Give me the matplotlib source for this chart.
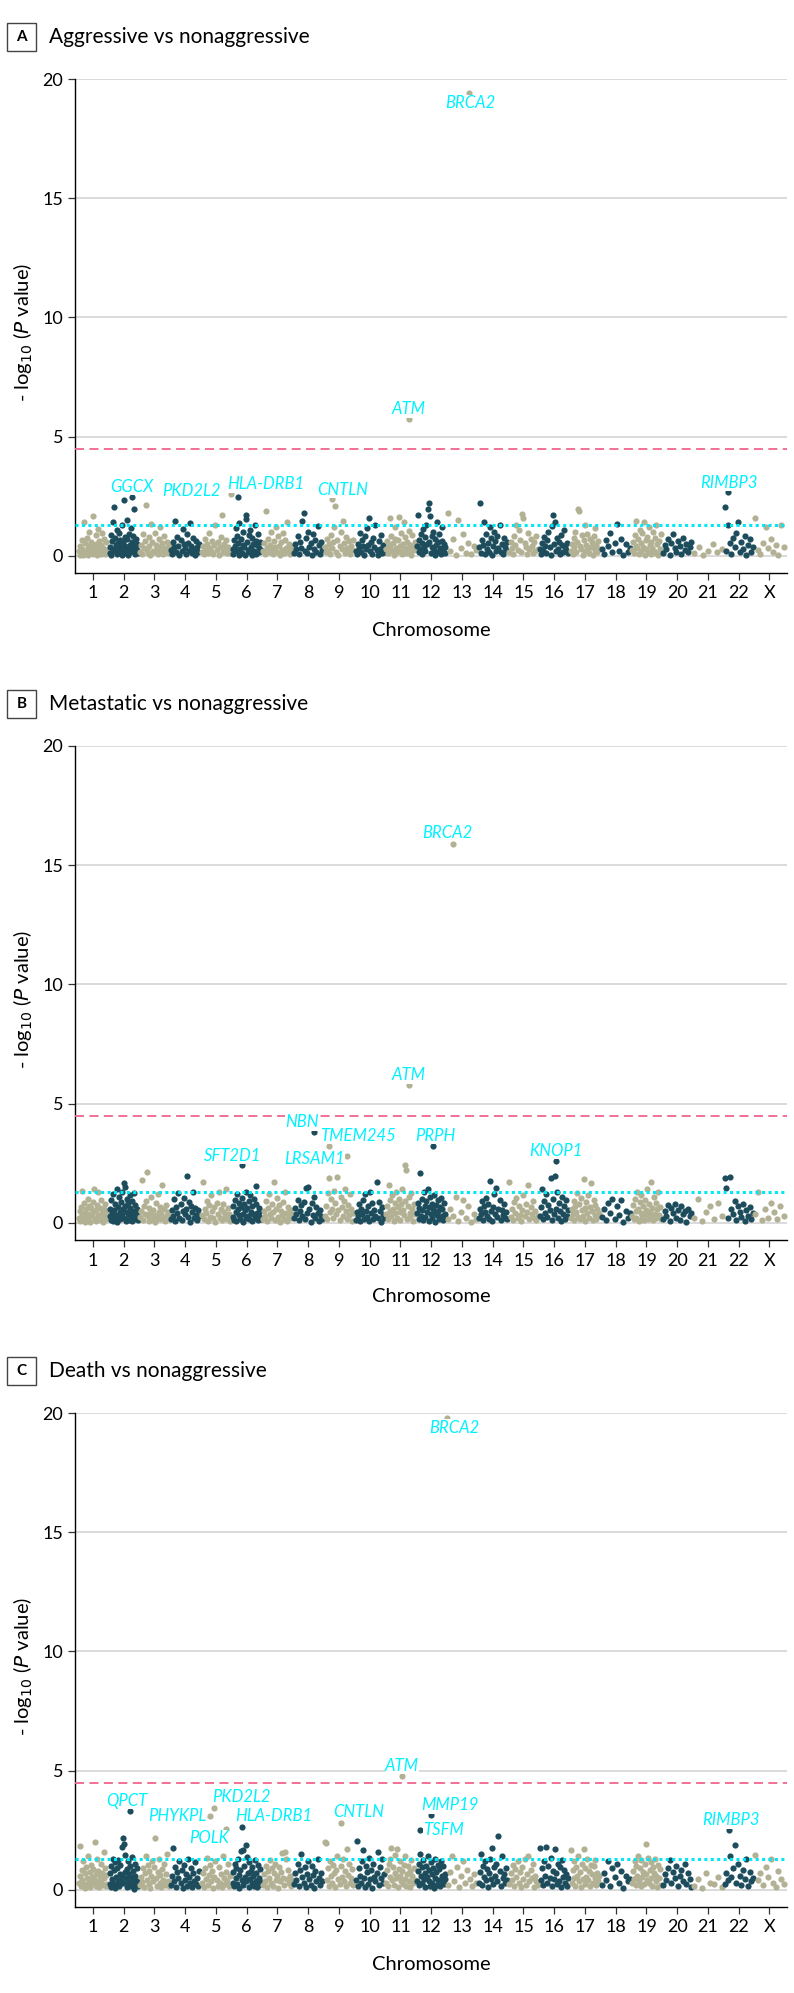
import numpy as np
import matplotlib.pyplot as plt
from matplotlib.patches import Rectangle

plt.rcParams['font.family'] = ['Lato', 'DejaVu Sans']

chromosomes = [str(i) for i in range(1, 23)] + ['X']

# -log10(P) per chromosome (x100), listed in genomic order
bulk_a = [
    "22 5 41 12 68 30 3 142 55 18 9 74 33 2 101 47 15 60 26 7 167 38 11 88 51 4 29 112 63 20 8 45 95 34 13 70 6 57 24 10",
    "35 12 88 4 61 27 140 204 19 73 45 8 110 52 31 96 14 66 38 2 129 57 23 234 81 42 10 150 69 28 5 93 47 16 118 60 33 84 21 195 39 7 72 25 49 13",
    "18 44 7 90 31 62 213 25 11 79 40 3 135 58 22 14 96 47 29 6 71 38 120 16 52 9 84 33 24 60 12 42",
    "26 9 58 37 145 14 80 43 5 67 22 112 48 31 8 92 55 19 138 40 12 73 28 3 61 35 17 50",
    "15 40 6 72 28 51 11 95 34 20 63 8 44 128 25 57 3 38 81 170 17 49 30 66 10 36 22 13",
    "30 8 66 42 118 19 85 53 4 137 27 71 12 98 46 35 5 170 155 60 24 88 14 107 39 2 76 50 21 130 63 9 44 93 31 16 58 25",
    "20 55 9 187 33 70 14 46 101 28 6 62 37 122 18 84 41 3 57 25 95 11 68 32 140 16 48 7 39 23",
    "12 48 27 85 6 60 34 145 180 21 73 10 102 39 55 3 90 30 66 16 125 44 8 58 24",
    "36 14 70 25 48 9 88 31 57 120 210 18 65 4 42 99 27 145 52 11 77 34 20 61 7 40 23 66",
    "22 7 51 33 96 14 68 40 3 82 27 115 45 160 19 58 9 74 36 130 24 5 63 30 88 12 47 18",
    "28 62 10 45 160 37 83 19 55 5 120 72 31 14 66 163 41 22 95 8 50 140 27 77 12 60 34 105 18 46 3 89 38 25 57",
    "40 173 15 68 29 90 6 52 112 35 77 21 130 48 198 220 60 167 11 85 38 102 25 4 71 44 140 18 57 93 31 9 64 120 27 50 13 36",
    "178 20 72 5 150 34 90 12 55 8 41 26",
    "35 220 12 68 44 140 8 90 27 55 18 120 73 3 40 100 61 22 85 31 130 14 50 9 76 38 25 58",
    "18 60 33 9 82 45 130 25 110 68 14 175 160 52 36 6 94 28 71 40 12 57 22 85 30",
    "30 6 55 22 80 41 12 67 98 35 3 125 170 48 140 19 73 27 60 9 88 44 15 110 37 24 52 10",
    "22 50 8 75 35 102 14 60 195 190 41 27 88 5 66 130 19 47 93 31 11 72 38 56 3 84 25 115 44 16 62 29",
    "30 8 65 40 95 15 55 135 22 70 4 48 18 33",
    "25 60 12 88 40 145 31 70 6 110 52 19 95 37 140 4 66 28 80 15 120 45 9 58 33 100 22 74 11 130 48 3 63 27 90",
    "12 45 28 70 5 55 90 33 18 62 40 8 75 25 50 14 36 60",
    "10 35 5 22 48 14 30",
    "206 20 130 55 8 75 35 95 140 15 60 28 85 4 45 70 18 38",
    "160 25 8 55 120 32 70 14 45 5 130 38",
]
bulk_b = [
    "20 48 9 66 135 31 14 82 40 5 57 24 98 11 70 36 3 61 27 88 45 143 18 52 7 76 33 130 21 64 12 94 42 4 58 29 80 16 50 25",
    "28 60 11 95 42 7 123 55 19 80 34 140 4 68 26 110 47 15 89 38 131 58 22 168 150 71 9 102 44 30 85 13 64 115 36 6 92 51 20 126 40 74 17 57 33 10",
    "24 50 180 12 72 38 90 215 29 8 63 41 110 17 55 33 4 82 26 120 47 14 68 35 160 21 58 9 76 31 44 15",
    "18 55 30 98 7 67 40 125 22 80 12 48 105 35 60 195 26 88 5 71 44 130 19 62 33 10 52 28",
    "32 170 14 60 41 93 8 74 25 118 50 19 66 3 85 37 131 22 57 11 79 46 28 140 15 63 36 9",
    "26 70 12 95 44 8 120 58 33 85 17 66 105 39 4 78 52 22 128 61 30 90 14 115 47 6 72 36 100 20 81 155 42 11 63 28 50 16",
    "15 48 30 92 8 64 120 37 22 80 45 170 12 58 105 26 73 4 50 34 88 18 130 41 9 67 29 55 20 38",
    "20 62 35 95 10 48 75 28 88 15 145 40 150 58 5 82 31 110 22 66 42 8 54 30 18",
    "30 72 15 125 190 44 98 60 22 135 85 38 192 52 10 110 66 27 90 140 48 18 75 33 120 56 8 41",
    "12 45 28 80 6 60 35 95 18 120 50 25 70 9 130 40 82 15 55 30 172 22 88 48 5 65 33 20",
    "35 72 14 160 50 95 28 118 60 8 85 40 130 22 66 100 45 12 78 140 55 33 243 90 220 18 70 110 42 26 125 58 9 80 38",
    "40 85 18 62 207 30 100 55 12 128 70 25 92 45 140 8 66 110 36 80 20 58 118 42 5 76 33 96 50 15 68 105 28 60 10 82 38 22",
    "15 60 30 110 8 45 95 22 70 5 38 18",
    "22 58 35 90 12 70 45 105 28 80 16 175 50 8 66 120 38 145 25 60 95 10 55 32 78 20 44 14",
    "170 25 60 12 88 40 105 20 70 33 8 55 118 28 80 45 157 15 65 38 92 22 50 10 30",
    "30 65 140 15 90 42 120 25 75 55 188 10 100 35 197 60 130 20 82 48 8 110 38 70 18 95 28 52",
    "20 58 35 92 10 70 44 125 26 80 15 105 52 30 183 62 8 88 40 118 22 68 166 48 12 95 34 74 18 56 28 40",
    "25 60 10 85 40 100 18 70 32 95 5 50 22 42",
    "30 75 14 100 48 22 130 60 8 88 40 118 26 70 12 95 52 35 140 18 80 45 28 170 62 10 110 38 85 20 58 128 33 66 15",
    "15 50 30 75 8 62 40 80 22 55 12 70 35 48 5 60 28 42",
    "20 100 8 45 70 15 85 30",
    "188 145 20 191 60 35 90 12 70 45 25 80 8 55 30 65 15 40",
    "35 130 10 60 22 85 45 15 70 28",
]
bulk_c = [
    "30 60 184 15 85 42 120 25 70 8 95 50 20 140 35 75 12 105 55 28 88 45 200 18 66 130 38 80 10 58 110 33 72 22 160 48 90 14 62 26",
    "25 70 12 98 45 130 30 82 8 115 55 20 92 40 125 15 68 105 35 178 60 216 28 193 75 147 48 10 88 120 33 65 18 100 52 138 22 80 42 5 110 58 26 90 36 14",
    "20 55 32 90 12 70 140 40 105 25 80 8 60 120 35 95 216 48 18 75 130 28 62 10 88 42 110 22 68 150 38 15",
    "22 60 174 35 95 12 75 48 120 28 85 8 105 42 65 18 130 55 30 90 10 70 38 115 25 50 15 80",
    "28 70 12 90 45 135 20 62 105 35 80 8 55 120 40 18 95 30 68 10 140 50 25 75 38 110 15 58",
    "30 75 15 110 50 90 25 130 62 8 85 163 40 166 20 100 55 190 35 136 70 12 118 45 80 28 95 60 18 125 38 72 10 105 48 22 88 33",
    "22 65 38 100 12 80 48 125 28 90 15 70 110 42 60 8 95 35 75 155 50 20 160 130 45 85 30 58 18 40",
    "25 72 40 110 15 85 150 55 30 95 12 68 120 45 20 100 62 8 80 35 130 50 22 70 38",
    "200 195 40 90 18 120 60 30 105 70 12 85 140 45 25 98 55 130 35 78 15 170 62 110 28 50 88 20",
    "40 203 18 90 60 30 120 166 50 12 100 75 25 135 45 85 8 110 55 35 70 160 20 95 48 130 28 65",
    "30 85 15 110 55 130 175 40 95 20 70 145 50 172 10 88 60 120 35 78 25 105 45 140 18 65 98 38 80 12 125 58 28 90 42",
    "35 80 20 110 150 60 95 28 125 45 70 12 100 55 140 38 85 18 118 65 30 92 8 130 50 75 22 105 42 88 15 120 58 35 98 25 68 45",
    "20 75 142 35 95 10 60 120 28 85 45 15 65 30",
    "30 75 150 20 100 55 120 40 88 12 70 130 45 174 25 95 60 110 35 225 80 18 140 50 68 28 90 42",
    "25 70 40 105 15 88 55 120 30 75 10 95 45 130 20 65 140 35 85 50 110 12 60 38 22",
    "176 40 90 20 120 60 180 30 100 50 135 15 80 45 170 70 25 110 38 95 10 125 55 85 30 65 18 48",
    "168 30 85 50 120 18 95 60 140 35 75 12 110 45 170 25 90 55 130 40 80 15 105 65 28 98 48 125 20 70 38 58",
    "20 70 40 120 15 90 55 110 30 80 8 60 35 45",
    "30 80 45 120 20 100 60 140 35 90 15 125 55 75 25 110 65 193 40 135 28 85 50 118 18 95 70 130 38 60 12 105 48 88 22",
    "20 65 40 90 125 30 75 50 100 15 60 85 35 110 25 70 45 10",
    "15 45 8 70 30 25 55 12",
    "25 70 40 140 55 90 186 30 110 60 20 85 45 130 15 75 35 50",
    "148 40 70 20 95 55 130 30 10 80 45 25",
]

# labelled genes: chromosome, relative position within chromosome, -log10(P)
genes_a = ['GGCX', 'PKD2L2', 'HLA-DRB1', 'CNTLN', 'ATM', 'BRCA2', 'RIMBP3']
chrom_a = [2, 5, 6, 9, 11, 13, 22]
pos_a = [0.26, 0.48, -0.3, -0.24, 0.27, 0.23, -0.36]
logp_a = [2.48, 2.6, 2.45, 2.38, 5.73, 19.4, 2.69]

genes_b = ['SFT2D1', 'NBN', 'TMEM245', 'LRSAM1', 'ATM', 'PRPH', 'BRCA2', 'KNOP1']
chrom_b = [6, 8, 9, 9, 11, 12, 13, 16]
pos_b = [-0.16, 0.2, -0.33, 0.25, 0.27, 0.06, -0.29, 0.06]
logp_b = [2.43, 3.8, 3.24, 2.79, 5.77, 3.24, 15.9, 2.6]

genes_c = ['QPCT', 'PHYKPL', 'PKD2L2', 'POLK', 'HLA-DRB1', 'CNTLN', 'ATM', 'MMP19', 'TSFM', 'BRCA2', 'RIMBP3']
chrom_c = [2, 5, 5, 5, 6, 9, 11, 12, 12, 13, 22]
pos_c = [0.19, -0.2, -0.08, 0.33, -0.14, 0.06, 0.05, 0.0, -0.37, -0.5, -0.3]
logp_c = [3.3, 3.08, 3.44, 2.55, 2.64, 2.8, 4.77, 3.13, 2.5, 19.8, 2.5]

titles = ['Aggressive vs nonaggressive', 'Metastatic vs nonaggressive', 'Death vs nonaggressive']
letters = ['A', 'B', 'C']

# label placement (pixels from the point: right, up)
offs_a = [(0, 10), (-39, 3), (28, 13), (11, 9), (0, 10), (1, -10), (1, 9)]
offs_b = [(-9, 9), (-12, 10), (29, 10), (-32, -3), (0, 10), (2, 10), (-6, 11), (0, 10)]
offs_c = [(-3, 10), (-33, 0), (28, 11), (-17, -9), (31, 11), (18, 11), (0, 10), (19, 10), (24, 0), (8, -10), (1, 10)]

sig_line = 4.5
nominal_line = 1.3

colors = ['#b3b194', '#1d4d5d']
label_color = '#00f2ff'

W, H = 794, 1993
fig = plt.figure(figsize=(W / 100, H / 100), dpi=100)

ax_left, ax_right = 75, 787
tops = [79, 746, 1413]
ax_h = 494


def draw_panel(ax, bulk, genes, chrom, pos, logp, offs):
    for i, s in enumerate(bulk):
        v = np.array(s.split(), dtype=float) / 100
        x = i + 1 + np.linspace(-0.46, 0.46, len(v))
        ax.scatter(x, v, s=20, color=colors[i % 2], lw=0, zorder=2)
    for g, c, p, y, (dx, dy) in zip(genes, chrom, pos, logp, offs):
        ax.scatter(c + p, y, s=20, color=colors[(c - 1) % 2], lw=0, zorder=2)
        ax.annotate(g, (c + p, y), xytext=(dx * 0.72, dy * 0.72), textcoords='offset points',
                    ha='center', va='center', color=label_color, style='italic', fontsize=12,
                    bbox=dict(fc='white', ec='none', pad=0.3), zorder=5)
    ax.axhline(sig_line, color='#f0658c', ls=(0, (5, 3)), lw=1.3, zorder=3)
    ax.axhline(nominal_line, color='#00e8f5', ls=(0, (1, 1.1)), lw=2.2, zorder=3)

    ax.set_xlim(0.415, 23.57)
    ax.set_ylim(-0.72, 20)
    ax.set_xticks(range(1, 24))
    ax.set_xticklabels(chromosomes)
    ax.set_yticks([0, 5, 10, 15, 20])
    ax.yaxis.grid(True, color='#dadada', lw=1.4)
    ax.set_axisbelow(True)
    for sp in ['top', 'right']:
        ax.spines[sp].set_visible(False)
    for sp in ['left', 'bottom']:
        ax.spines[sp].set_linewidth(1.0)
    ax.tick_params(axis='both', length=5, width=0.9, labelsize=13, color='#333333')
    ax.tick_params(axis='x', pad=4)
    ax.tick_params(axis='y', pad=3.5)
    ax.set_xlabel('Chromosome', fontsize=14.5, va='center')
    ax.xaxis.set_label_coords(0.5, -57 / ax_h)
    ax.set_ylabel(r'- log$_{10}$ ($\it{P}$ value)', fontsize=14.5, va='center')
    ax.yaxis.set_label_coords((23 - ax_left) / (ax_right - ax_left), 0.486)


panels = [
    (bulk_a, genes_a, chrom_a, pos_a, logp_a, offs_a),
    (bulk_b, genes_b, chrom_b, pos_b, logp_b, offs_b),
    (bulk_c, genes_c, chrom_c, pos_c, logp_c, offs_c),
]

for k, (top, data) in enumerate(zip(tops, panels)):
    ax = fig.add_axes([ax_left / W, 1 - (top + ax_h) / H, (ax_right - ax_left) / W, ax_h / H])
    draw_panel(ax, *data)
    yc = top - 42
    fig.add_artist(Rectangle((7 / W, 1 - (yc + 14) / H), 29 / W, 28 / H, transform=fig.transFigure,
                             fill=False, ec='#444444', lw=1.0))
    fig.text(21.5 / W, 1 - yc / H, letters[k], ha='center', va='center', fontsize=11, fontweight='bold')
    fig.text(49 / W, 1 - yc / H, titles[k], ha='left', va='center', fontsize=15)

fig.savefig('out.png', dpi=100)
